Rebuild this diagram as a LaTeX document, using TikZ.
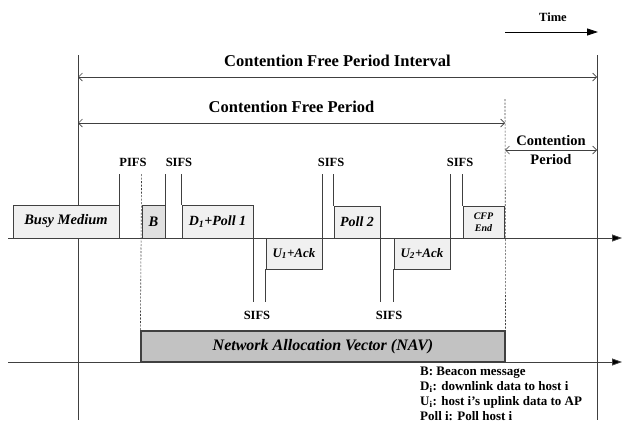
\documentclass[tikz,border=0pt]{standalone}
\usepackage{fontspec}
\setmainfont{Liberation Serif}
\usetikzlibrary{arrows.meta}
\definecolor{linegray}{gray}{0.25}
\definecolor{pktfill}{gray}{0.94}
\definecolor{beaconfill}{gray}{0.88}
\definecolor{navfill}{gray}{0.76}
\begin{document}
\begin{tikzpicture}[x=1pt,y=-1pt,
  thinline/.style={draw=linegray, line width=0.8pt},
  dimline/.style={draw=linegray, line width=0.7pt, {Straight Barb[length=4pt,width=8pt]}-{Straight Barb[length=4pt,width=8pt]}},
  axisline/.style={draw=linegray, line width=0.8pt, -{Triangle[length=10pt,width=7pt,fill=black]}},
  dashline/.style={draw=linegray, line width=0.6pt, dash pattern=on 2pt off 1.5pt},
  pkt/.style={draw=linegray, fill=pktfill, line width=0.8pt, inner sep=0pt,
    font=\fontsize{14.5}{16}\selectfont\bfseries\itshape},
  title/.style={font=\fontsize{16.5}{18}\selectfont\bfseries, inner sep=0pt},
  gaplabel/.style={font=\fontsize{12.5}{14}\selectfont\bfseries, inner sep=0pt},
  legend/.style={font=\fontsize{13}{15}\selectfont\bfseries, inner sep=0pt, align=left, anchor=north west}]
\useasboundingbox (0,0) rectangle (622,426);

% reference heights
\coordinate (top) at (0,55);
\coordinate (tick) at (0,174);
\coordinate (low) at (0,302);
\coordinate (foot) at (0,420);

% time arrow
\node[gaplabel] (time) at (553,17) {Time};
\coordinate (t0) at (505,32);
\coordinate (t1) at (598,32);
\draw[line width=0.8pt, -{Triangle[length=11pt,width=7pt]}] (t0) -- (t1);

% frame boundaries
\coordinate (L) at (78,55);
\coordinate (R) at (597,55);
\coordinate (E) at (505,99);
\draw[thinline] (L) -- (L |- foot);
\draw[thinline] (R) -- (R |- foot);

% interval dimensions
\node[title] (cfpi) at (337.5,61) {Contention Free Period Interval};
\draw[dimline] (L |- 0,77) -- (R |- 0,77);
\node[title] (cfp) at (291.5,107) {Contention Free Period};
\draw[dimline] (L |- 0,123) -- (E |- 0,123);
\node[title, font=\fontsize{14.5}{17}\selectfont\bfseries] (cp1) at (551,141) {Contention};
\draw[dimline] (E |- 0,150) -- (R |- 0,150);
\node[title, font=\fontsize{14.5}{17}\selectfont\bfseries] (cp2) at (551,160) {Period};

% time axes
\coordinate (a0) at (8,238);
\coordinate (a1) at (622,238);
\coordinate (n0) at (8,362);
\coordinate (n1) at (622,362);
\draw[axisline] (a0) -- (a1);
\draw[axisline] (n0) -- (n1);

% frames on the medium
\node[pkt, minimum width=106pt, minimum height=33pt] (busy) at (66,221.5) {Busy Medium};
\node[pkt, fill=beaconfill, minimum width=23pt, minimum height=33pt] (bcn) at (153.5,221.5) {B};
\node[pkt, minimum width=71pt, minimum height=33pt, font=\fontsize{14}{16}\selectfont\bfseries\itshape] (d1) at (217.5,221.5) {D\textsubscript{1}+Poll 1};
\node[pkt, minimum width=56pt, minimum height=31pt, font=\fontsize{13}{15}\selectfont\bfseries\itshape] (u1) at (294,253.5) {U\textsubscript{1}+Ack};
\node[pkt, minimum width=46pt, minimum height=32pt, font=\fontsize{14}{16}\selectfont\bfseries\itshape] (p2) at (357,222) {Poll 2};
\node[pkt, minimum width=56pt, minimum height=31pt, font=\fontsize{13}{15}\selectfont\bfseries\itshape] (u2) at (422,253.5) {U\textsubscript{2}+Ack};
\node[pkt, minimum width=41pt, minimum height=32pt, align=center,
  font=\fontsize{10}{12}\selectfont\bfseries\itshape] (cend) at (483.5,222) {CFP\\End};

% NAV
\node[pkt, fill=navfill, line width=1.2pt, minimum width=364pt, minimum height=31pt,
  font=\fontsize{16}{18}\selectfont\bfseries\itshape] (nav) at (323,346.5) {Network Allocation Vector (NAV)};

% dashed markers
\draw[dashline] (bcn.south west |- tick) -- (nav.north west);
\draw[dashline] (E) -- (nav.south east);

% inter-frame gap ticks above the axis
\draw[thinline] (busy.north east) -- (busy.north east |- tick);
\draw[thinline] (bcn.north east) -- (bcn.north east |- tick);
\draw[thinline] (d1.north west) -- (d1.north west |- tick);
\draw[thinline] (u1.north east) -- (u1.north east |- tick);
\draw[thinline] (p2.north west) -- (p2.north west |- tick);
\draw[thinline] (u2.north east) -- (u2.north east |- tick);
\draw[thinline] (cend.north west) -- (cend.north west |- tick);

% inter-frame gap ticks below the axis
\draw[thinline] (d1.south east) -- (d1.south east |- low);
\draw[thinline] (u1.south west) -- (u1.south west |- low);
\draw[thinline] (p2.south east) -- (p2.south east |- low);
\draw[thinline] (u2.south west) -- (u2.south west |- low);

% gap labels
\node[gaplabel] (pifs) at (133,162) {PIFS};
\node[gaplabel] (sifs1) at (179,162) {SIFS};
\node[gaplabel] (sifs2) at (331,162) {SIFS};
\node[gaplabel] (sifs3) at (460,162) {SIFS};
\node[gaplabel] (sifs4) at (257,315) {SIFS};
\node[gaplabel] (sifs5) at (389,315) {SIFS};

% legend
\node[legend] (key) at (420,367) {B: Beacon message\\
D\textsubscript{i}: downlink data to host i\\
U\textsubscript{i}: host i's uplink data to AP\\
Poll i: Poll host i};
\end{tikzpicture}
\end{document}
